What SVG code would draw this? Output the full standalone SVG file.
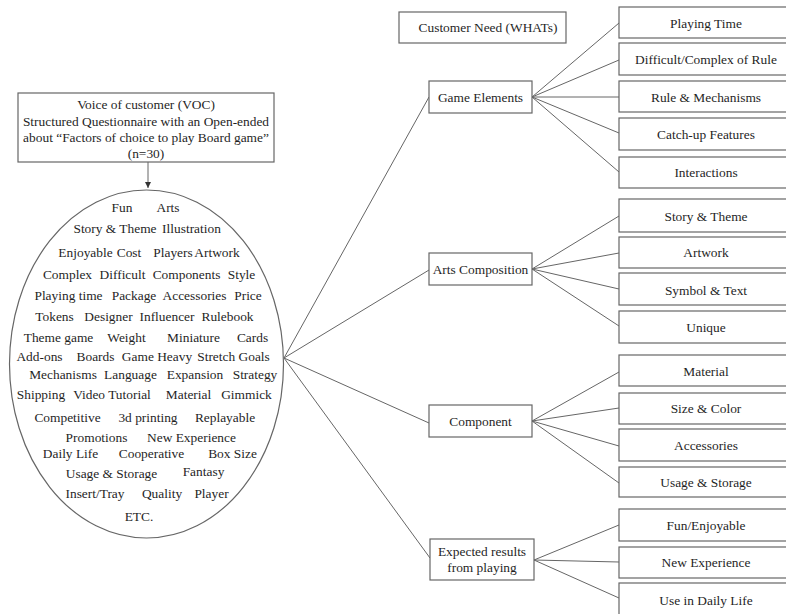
<svg xmlns="http://www.w3.org/2000/svg" width="786" height="614" viewBox="0 0 786 614">
<defs>
<marker id="arr" viewBox="0 0 10 10" refX="10" refY="5" markerWidth="6" markerHeight="6" orient="auto" markerUnits="userSpaceOnUse">
<path d="M0,0 L10,5 L0,10 z" fill="#333"/>
</marker>
<style>
text{font-family:"Liberation Serif","Times New Roman",serif;font-size:13.4px;fill:#1f1f1f;text-anchor:middle}
.box{fill:#fff;stroke:#666;stroke-width:1.2}
.ln{stroke:#666;stroke-width:1;fill:none}
</style>
</defs>
<rect width="786" height="614" fill="#fff"/>

<g id="connectors">
<line class="ln" x1="148" y1="162" x2="148" y2="188" marker-end="url(#arr)"/>
<line class="ln" x1="284" y1="358" x2="429" y2="97"/>
<line class="ln" x1="284" y1="358" x2="429" y2="270"/>
<line class="ln" x1="284" y1="358" x2="429" y2="423"/>
<line class="ln" x1="284" y1="358" x2="430" y2="558"/>
<line class="ln" x1="532" y1="97" x2="619" y2="23"/>
<line class="ln" x1="532" y1="97" x2="619" y2="60"/>
<line class="ln" x1="532" y1="97" x2="619" y2="97"/>
<line class="ln" x1="532" y1="97" x2="619" y2="133"/>
<line class="ln" x1="532" y1="97" x2="619" y2="172"/>
<line class="ln" x1="532" y1="269" x2="619" y2="216"/>
<line class="ln" x1="532" y1="269" x2="619" y2="253"/>
<line class="ln" x1="532" y1="269" x2="619" y2="289"/>
<line class="ln" x1="532" y1="269" x2="619" y2="326"/>
<line class="ln" x1="532" y1="421" x2="619" y2="372"/>
<line class="ln" x1="532" y1="421" x2="619" y2="408"/>
<line class="ln" x1="532" y1="421" x2="619" y2="446"/>
<line class="ln" x1="532" y1="421" x2="619" y2="483"/>
<line class="ln" x1="534" y1="560" x2="619" y2="525"/>
<line class="ln" x1="534" y1="560" x2="619" y2="562"/>
<line class="ln" x1="534" y1="560" x2="619" y2="598"/>
</g>

<g id="voc">
<rect class="box" x="18" y="93" width="256" height="69"/>
<text x="146" y="108.5">Voice of customer (VOC)</text>
<text x="146" y="125.5">Structured Questionnaire with an Open-ended</text>
<text x="146" y="141.5">about “Factors of choice to play Board game”</text>
<text x="146" y="157.5">(n=30)</text>
</g>

<g id="factors">
<ellipse cx="146.5" cy="364" rx="137" ry="174" fill="#fff" stroke="#666" stroke-width="1.2"/>
<text x="122" y="211.5">Fun</text><text x="168" y="211.5">Arts</text>
<text x="115" y="232.5">Story &amp; Theme</text><text x="191.5" y="232.5">Illustration</text>
<text x="85.5" y="256.5">Enjoyable</text><text x="129" y="256.5">Cost</text><text x="173" y="256.5">Players</text><text x="217" y="256.5">Artwork</text>
<text x="67.5" y="278.5">Complex</text><text x="122.5" y="278.5">Difficult</text><text x="186.5" y="278.5">Components</text><text x="241.5" y="278.5">Style</text>
<text x="68.5" y="299.5">Playing time</text><text x="134" y="299.5">Package</text><text x="194.5" y="299.5">Accessories</text><text x="248" y="299.5">Price</text>
<text x="54.5" y="320.5">Tokens</text><text x="108.5" y="320.5">Designer</text><text x="167" y="320.5">Influencer</text><text x="227.5" y="320.5">Rulebook</text>
<text x="58.5" y="341.5">Theme game</text><text x="126.5" y="341.5">Weight</text><text x="193.5" y="341.5">Miniature</text><text x="252.5" y="341.5">Cards</text>
<text x="39.5" y="360.5">Add-ons</text><text x="95.5" y="360.5">Boards</text><text x="157" y="360.5">Game Heavy</text><text x="233.5" y="360.5">Stretch Goals</text>
<text x="63" y="378.5">Mechanisms</text><text x="130.5" y="378.5">Language</text><text x="195" y="378.5">Expansion</text><text x="255" y="378.5">Strategy</text>
<text x="41" y="398.5">Shipping</text><text x="112" y="398.5">Video Tutorial</text><text x="188.5" y="398.5">Material</text><text x="246.5" y="398.5">Gimmick</text>
<text x="67.5" y="421.5">Competitive</text><text x="148" y="421.5">3d printing</text><text x="225" y="421.5">Replayable</text>
<text x="96.5" y="441.5">Promotions</text><text x="191.5" y="441.5">New Experience</text>
<text x="70.5" y="457.5">Daily Life</text><text x="151.5" y="457.5">Cooperative</text><text x="232.5" y="457.5">Box Size</text>
<text x="111.5" y="477.5">Usage &amp; Storage</text><text x="203.5" y="475.5">Fantasy</text>
<text x="95" y="497.5">Insert/Tray</text><text x="162" y="497.5">Quality</text><text x="211.5" y="497.5">Player</text>
<text x="139" y="520.5">ETC.</text>
</g>

<g id="customer-need">
<rect class="box" x="399" y="12" width="167" height="31"/>
<text x="488" y="31.5">Customer Need (WHATs)</text>
</g>

<g id="game-elements">
<rect class="box" x="429" y="81" width="103" height="32"/>
<text x="480.5" y="101.5">Game Elements</text>
</g>
<g id="arts-composition">
<rect class="box" x="429" y="253" width="103" height="32"/>
<text x="480.5" y="273.5">Arts Composition</text>
</g>
<g id="component">
<rect class="box" x="429" y="405" width="103" height="32"/>
<text x="480.5" y="425.5">Component</text>
</g>
<g id="expected-results">
<rect class="box" x="430" y="539" width="104" height="41"/>
<text x="482" y="555.5">Expected results</text>
<text x="482" y="571.5">from playing</text>
</g>

<g id="playing-time"><rect class="box" x="619" y="7" width="175" height="31"/><text x="706" y="27.5">Playing Time</text></g>
<g id="difficult"><rect class="box" x="619" y="43" width="175" height="32"/><text x="706" y="63.5">Difficult/Complex of Rule</text></g>
<g id="rule-mechanisms"><rect class="box" x="619" y="81" width="175" height="31"/><text x="706" y="101.5">Rule &amp; Mechanisms</text></g>
<g id="catch-up"><rect class="box" x="619" y="118" width="175" height="32"/><text x="706" y="138.5">Catch-up Features</text></g>
<g id="interactions"><rect class="box" x="619" y="157" width="175" height="31"/><text x="706" y="176.5">Interactions</text></g>
<g id="story-theme"><rect class="box" x="619" y="199" width="175" height="33"/><text x="706" y="220.5">Story &amp; Theme</text></g>
<g id="artwork"><rect class="box" x="619" y="237" width="175" height="31"/><text x="706" y="256.5">Artwork</text></g>
<g id="symbol-text"><rect class="box" x="619" y="273" width="175" height="32"/><text x="706" y="294.5">Symbol &amp; Text</text></g>
<g id="unique"><rect class="box" x="619" y="311" width="175" height="32"/><text x="706" y="331.5">Unique</text></g>
<g id="material"><rect class="box" x="619" y="355" width="175" height="31"/><text x="706" y="375.5">Material</text></g>
<g id="size-color"><rect class="box" x="619" y="393" width="175" height="31"/><text x="706" y="412.5">Size &amp; Color</text></g>
<g id="accessories"><rect class="box" x="619" y="429" width="175" height="32"/><text x="706" y="449.5">Accessories</text></g>
<g id="usage-storage"><rect class="box" x="619" y="467" width="175" height="30"/><text x="706" y="486.5">Usage &amp; Storage</text></g>
<g id="fun-enjoyable"><rect class="box" x="619" y="509" width="175" height="32"/><text x="706" y="529.5">Fun/Enjoyable</text></g>
<g id="new-experience"><rect class="box" x="619" y="547" width="175" height="31"/><text x="706" y="566.5">New Experience</text></g>
<g id="daily-life"><rect class="box" x="619" y="583" width="175" height="35"/><text x="706" y="604.5">Use in Daily Life</text></g>
</svg>
